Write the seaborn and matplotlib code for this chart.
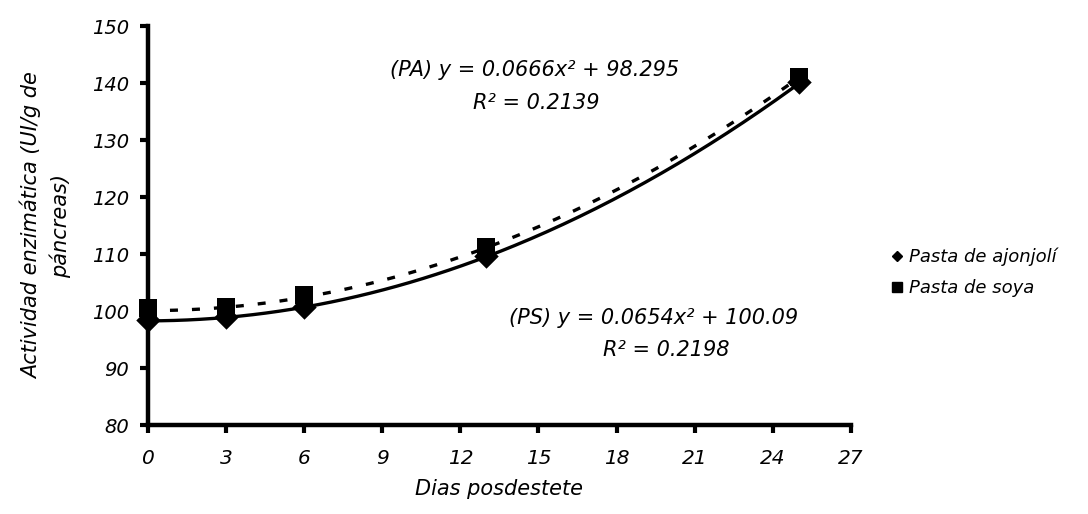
import numpy as np
import pandas as pd
import matplotlib
matplotlib.use("Agg")
import matplotlib.pyplot as plt
import seaborn as sns
from matplotlib.lines import Line2D

# ---- data ----
dias = [0, 3, 6, 13, 25]
ajonjoli = [98.5, 99.0, 100.8, 109.6, 140.2]
soya = [100.5, 100.8, 102.8, 111.3, 141.0]
series = ["Pasta de ajonjolí", "Pasta de soya"]
# trend-line coefficients as printed on the chart: y = a*x^2 + b
coef_pa = [0.0666, 98.295]
coef_ps = [0.0654, 100.09]
eq_pa = ["(PA) y = 0.0666x² + 98.295", "R² = 0.2139"]
eq_ps = ["(PS) y = 0.0654x² + 100.09", "R² = 0.2198"]
xticks = [0, 3, 6, 9, 12, 15, 18, 21, 24, 27]
yticks = [80, 90, 100, 110, 120, 130, 140, 150]

sns.set_style("white")
plt.rcParams["font.family"] = ["DejaVu Sans"]
plt.rcParams["font.style"] = "italic"
plt.rcParams["text.color"] = "black"
plt.rcParams["axes.labelcolor"] = "black"
plt.rcParams["xtick.color"] = "black"
plt.rcParams["ytick.color"] = "black"
plt.rcParams["lines.solid_capstyle"] = "butt"

pts = pd.DataFrame({
    "dia": dias * 2,
    "valor": ajonjoli + soya,
    "serie": [series[0]] * len(dias) + [series[1]] * len(dias),
})
xs = np.linspace(dias[0], dias[-1], 200)
trend = pd.DataFrame({
    "dia": np.concatenate([xs, xs]),
    "valor": np.concatenate([coef_pa[0] * xs**2 + coef_pa[1],
                             coef_ps[0] * xs**2 + coef_ps[1]]),
    "serie": [series[0]] * len(xs) + [series[1]] * len(xs),
})

fig = plt.figure(figsize=(10.88, 5.14), dpi=100)
ax = fig.add_axes([0.136, 0.173, 0.646, 0.776])

sns.lineplot(data=trend[trend.serie == series[0]], x="dia", y="valor",
             color="black", lw=2.4, ax=ax, legend=False)
sns.lineplot(data=trend[trend.serie == series[1]], x="dia", y="valor",
             color="black", lw=2.4, ax=ax, legend=False)
ax.lines[1].set_dashes([2.4, 4.2])

sns.scatterplot(data=pts[pts.serie == series[1]], x="dia", y="valor",
                marker="s", color="black", s=185, linewidth=0,
                ax=ax, legend=False, zorder=5)
sns.scatterplot(data=pts[pts.serie == series[0]], x="dia", y="valor",
                marker="D", color="black", s=155, linewidth=0,
                ax=ax, legend=False, zorder=6)
for c in ax.collections:
    c.set_clip_on(False)

ax.set_xlim(0, 27)
ax.set_ylim(80, 150)
ax.set_xticks(xticks)
ax.set_yticks(yticks)
ax.set_xticklabels([str(t) for t in xticks], fontsize=14.5, style="italic")
ax.set_yticklabels([str(t) for t in yticks], fontsize=14, style="italic")
ax.tick_params(axis="both", direction="out", length=5.5, width=3,
               color="black", labelcolor="black", bottom=True, left=True)
ax.tick_params(axis="x", pad=12)
ax.tick_params(axis="y", pad=8)
for s in ["top", "right"]:
    ax.spines[s].set_visible(False)
for s in ["left", "bottom"]:
    ax.spines[s].set_linewidth(3.2)
    ax.spines[s].set_color("black")

ax.set_xlabel("Dias posdestete", fontsize=15, style="italic", color="black")
ax.xaxis.set_label_coords(0.5, -0.135)
ax.set_ylabel("Actividad enzimática (UI/g de\npáncreas)", fontsize=15,
              style="italic", linespacing=1.4, color="black")
ax.yaxis.set_label_coords(-0.11, 0.5)

ax.text(14.86, 142.3, eq_pa[0], ha="center", va="center", fontsize=15, style="italic")
ax.text(14.9, 136.6, eq_pa[1], ha="center", va="center", fontsize=15, style="italic")
ax.text(19.43, 98.8, eq_ps[0], ha="center", va="center", fontsize=15, style="italic")
ax.text(19.9, 93.2, eq_ps[1], ha="center", va="center", fontsize=15, style="italic")

handles = [Line2D([], [], ls="none", marker="D", color="black", markersize=5.6),
           Line2D([], [], ls="none", marker="s", color="black", markersize=7.5)]
fig.legend(handles, series, loc="center left", bbox_to_anchor=(0.80, 0.47),
           frameon=False, handletextpad=0.05, handlelength=1.2,
           labelspacing=0.75, prop={"style": "italic", "size": 13})

fig.savefig("out.png", dpi=100)
